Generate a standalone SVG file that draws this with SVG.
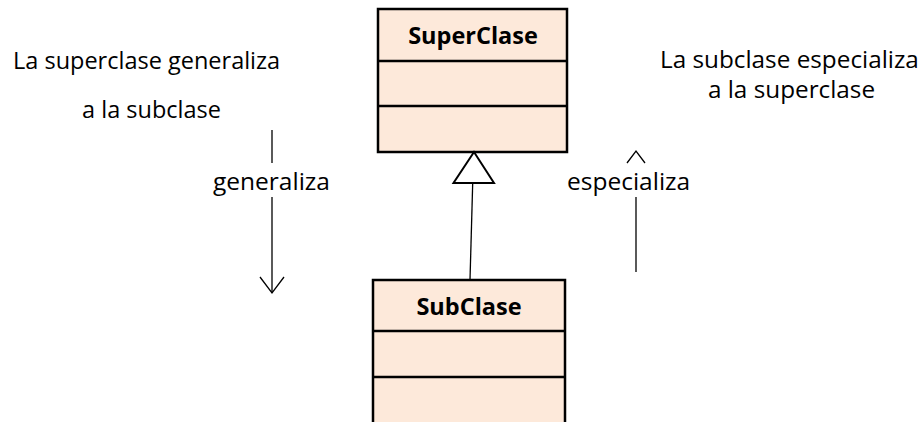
<svg xmlns="http://www.w3.org/2000/svg" width="923" height="422" viewBox="0 0 923 422">
  <style>
    .box { fill: #FDE9DA; stroke: #000; stroke-width: 2.5; }
    .div { stroke: #000; stroke-width: 2.5; }
    .name { font-family: "Open Sans", "Liberation Sans", sans-serif; font-weight: bold; font-size: 23.5px; text-anchor: middle; fill: #000; }
    .txt { font-family: "Open Sans", "Liberation Sans", sans-serif; font-size: 23.5px; fill: #000; }
    .big { font-size: 24.3px; }
    .lbl { font-size: 24.5px; }
    .mid { text-anchor: middle; }
    .ln { stroke: #000; stroke-width: 1.3; fill: none; }
  </style>
  <rect width="923" height="422" fill="#fff"/>

  <g id="superclase">
    <rect class="box" x="378" y="9" width="189" height="143"/>
    <line class="div" x1="378" y1="61" x2="567" y2="61"/>
    <line class="div" x1="378" y1="106" x2="567" y2="106"/>
    <text class="name" x="473" y="44">SuperClase</text>
  </g>

  <g id="subclase">
    <rect class="box" x="373" y="280" width="192" height="150"/>
    <line class="div" x1="373" y1="331" x2="565" y2="331"/>
    <line class="div" x1="373" y1="377" x2="565" y2="377"/>
    <text class="name" x="469" y="315">SubClase</text>
  </g>

  <g id="connectors">
    <!-- inheritance: SubClase to SuperClase, hollow triangle -->
    <line class="ln" x1="470" y1="280" x2="472.7" y2="183"/>
    <polygon points="474,152 453.5,183 494,183" fill="#fff" stroke="#000" stroke-width="2"/>
    <!-- generaliza arrow (down) -->
    <line class="ln" x1="272" y1="130" x2="272" y2="163"/>
    <line class="ln" x1="272" y1="197" x2="272" y2="293"/>
    <polyline class="ln" points="260,277 272,293 284,277"/>
    <!-- especializa arrow (up) -->
    <line class="ln" x1="636" y1="197" x2="636" y2="272"/>
    <polyline class="ln" points="627,163 636,151 645,163"/>
  </g>

  <g id="labels">
    <text class="txt" x="13" y="69">La superclase generaliza</text>
    <text class="txt mid" x="151.5" y="118">a la subclase</text>
    <text class="txt big" x="660" y="68">La subclase especializa</text>
    <text class="txt big mid" x="791.5" y="98">a la superclase</text>
    <text class="txt lbl" x="213" y="190">generaliza</text>
    <text class="txt lbl" x="567" y="190">especializa</text>
  </g>
</svg>
